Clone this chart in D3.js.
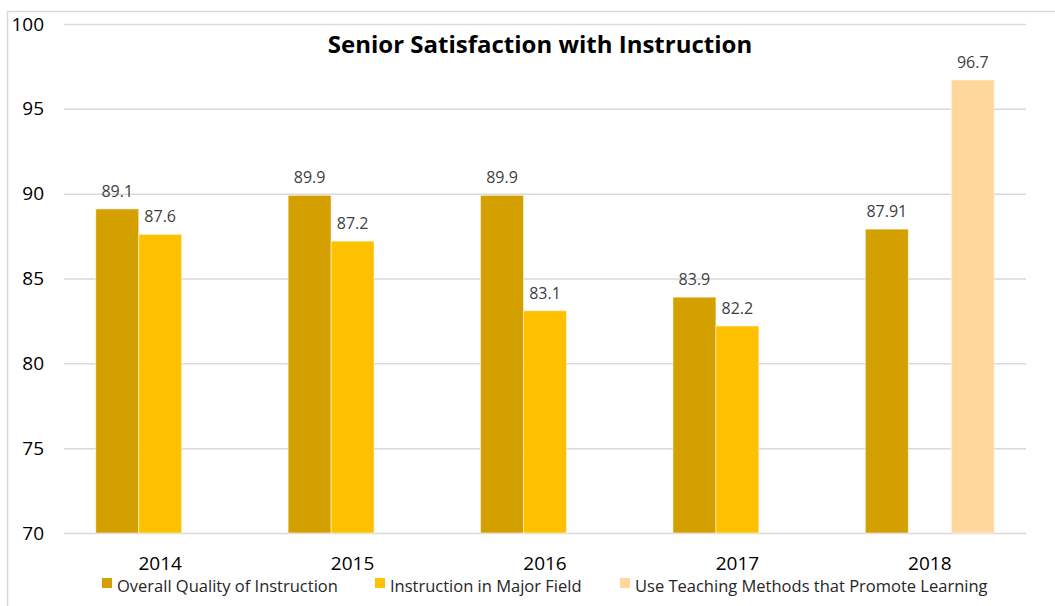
<!DOCTYPE html>
<html lang="en">
<head>
  <meta charset="UTF-8">
  <script src="https://cdn.jsdelivr.net/npm/d3@7"></script>
  <title>Senior Satisfaction with Instruction</title>
  <style>
    body { margin: 0; background: #fff; }
    text { font-family: "Open Sans", sans-serif; }
  </style>
</head>
<body>
  <script>
    var years = ['2014', '2015', '2016', '2017', '2018'];
    var seriesNames = ['Overall Quality of Instruction', 'Instruction in Major Field', 'Use Teaching Methods that Promote Learning'];
    var overall = [89.1, 89.9, 89.9, 83.9, 87.91];
    var majorField = [87.6, 87.2, 83.1, 82.2, null];
    var teaching = [null, null, null, null, 96.7];
    var yTicks = [70, 75, 80, 85, 90, 95, 100];
    var colors = ['#D4A000', '#FFC000', '#FFD79C'];

    var width = 1055, height = 606;
    var plotLeft = 64, plotRight = 1026, plotTop = 24, plotBottom = 533;

    var svg = d3.select('body').append('svg')
      .attr('width', width)
      .attr('height', height);

    // chart frame (only top/left edges are in view)
    svg.append('path')
      .attr('d', 'M7.5,' + height + 'V11.5H' + width)
      .attr('fill', 'none')
      .attr('stroke', '#d9d9d9')
      .attr('stroke-width', 1.5);

    var x = d3.scaleBand().domain(years).range([plotLeft, plotRight])
      .paddingInner(0.33).paddingOuter(0.165);
    var xs = d3.scaleBand().domain(d3.range(3)).range([0, x.bandwidth()]);
    var y = d3.scaleLinear().domain([70, 100]).range([plotBottom, plotTop]);

    // gridlines + y tick labels
    var yAxis = svg.append('g')
      .attr('transform', 'translate(' + plotLeft + ',0)')
      .call(d3.axisLeft(y).tickValues(yTicks).tickSize(-(plotRight - plotLeft)).tickPadding(20));
    yAxis.select('.domain').remove();
    yAxis.selectAll('.tick line').attr('stroke', '#d9d9d9').attr('stroke-width', 1.5);
    yAxis.selectAll('.tick text')
      .attr('fill', '#000')
      .style('font-size', '19px');

    var series = [overall, majorField, teaching];
    var rows = [];
    series.forEach(function(vals, s) {
      vals.forEach(function(v, i) {
        if (v != null) rows.push({year: years[i], s: s, value: v});
      });
    });

    svg.append('g').selectAll('rect')
      .data(rows)
      .enter().append('rect')
      .attr('x', function(d) { return x(d.year) + xs(d.s); })
      .attr('y', function(d) { return y(d.value); })
      .attr('width', xs.bandwidth())
      .attr('height', function(d) { return y(70) - y(d.value); })
      .attr('fill', function(d) { return colors[d.s]; })
      .attr('stroke', '#fff')
      .attr('stroke-opacity', 0.5)
      .attr('stroke-width', 1);

    svg.append('g').selectAll('text')
      .data(rows)
      .enter().append('text')
      .attr('x', function(d) { return x(d.year) + xs(d.s) + xs.bandwidth() / 2; })
      .attr('y', function(d) { return y(d.value) - 12; })
      .attr('text-anchor', 'middle')
      .attr('fill', '#404040')
      .style('font-size', '16px')
      .text(function(d) { return d.value; });

    // x axis labels
    svg.append('g').selectAll('text')
      .data(years)
      .enter().append('text')
      .attr('x', function(d) { return x(d) + x.bandwidth() / 2; })
      .attr('y', 570)
      .attr('text-anchor', 'middle')
      .attr('fill', '#000')
      .style('font-size', '19px')
      .text(function(d) { return d; });

    // title
    svg.append('text')
      .attr('x', 540)
      .attr('y', 53)
      .attr('text-anchor', 'middle')
      .attr('fill', '#000')
      .style('font-size', '24px')
      .style('font-weight', 'bold')
      .text('Senior Satisfaction with Instruction');

    // legend
    var legendX = [102, 375, 620];
    var lg = svg.append('g').selectAll('g')
      .data(seriesNames)
      .enter().append('g')
      .attr('transform', function(d, i) { return 'translate(' + legendX[i] + ',578)'; });
    lg.append('rect')
      .attr('width', 10).attr('height', 10)
      .attr('fill', function(d, i) { return colors[i]; });
    lg.append('text')
      .attr('x', 15)
      .attr('y', 14)
      .attr('fill', '#262626')
      .style('font-size', '16.5px')
      .text(function(d) { return d; });
  </script>
</body>
</html>
